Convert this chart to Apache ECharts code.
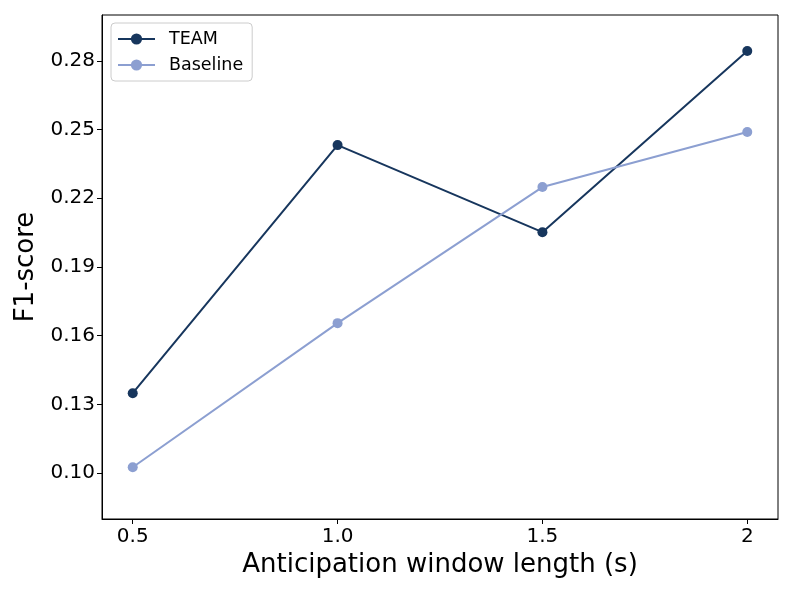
<!DOCTYPE html>
<html>
<head>
<meta charset="utf-8">
<script src="https://cdn.jsdelivr.net/npm/echarts@6/dist/echarts.min.js"></script>
<style>html,body{margin:0;padding:0;background:#fff;}#c{width:793px;height:595px;}</style>
</head>
<body>
<div id="c"></div>
<script>
const xValues = [0.5, 1.0, 1.5, 2.0];
const xTickLabels = ['0.5', '1.0', '1.5', '2'];
const yTicks = [0.10, 0.13, 0.16, 0.19, 0.22, 0.25, 0.28];
const teamValues = [0.1349, 0.2432, 0.2052, 0.2843];
const baselineValues = [0.1026, 0.1655, 0.2249, 0.2489];

const chart = echarts.init(document.getElementById('c'), null, {renderer: 'canvas'});
const font = 'DejaVu Sans';
chart.setOption({
  animation: false,
  backgroundColor: '#fff',
  grid: {left: 102, right: 15, top: 15, bottom: 76, show: true, borderColor: '#000', borderWidth: 1, backgroundColor: 'transparent'},
  legend: {
    left: 111, top: 23, orient: 'vertical',
    itemWidth: 37, itemHeight: 14, itemGap: 8,
    padding: [7, 9, 7, 6],
    borderColor: '#ccc', borderWidth: 1, borderRadius: 4,
    backgroundColor: 'rgba(255,255,255,0.8)',
    textStyle: {fontFamily: font, fontSize: 17.5, color: '#000', padding: [0, 0, 0, 9]},
    data: ['TEAM', 'Baseline']
  },
  xAxis: {
    type: 'value', min: 0.425, max: 2.075,
    name: 'Anticipation window length (s)', nameLocation: 'middle', nameGap: 32,
    nameTextStyle: {fontFamily: font, fontSize: 26, color: '#000'},
    axisLine: {show: true, lineStyle: {color: '#000', width: 1}},
    axisTick: {show: true, length: 5, customValues: xValues, lineStyle: {color: '#000'}},
    axisLabel: {
      customValues: xValues, margin: 8,
      fontFamily: font, fontSize: 20, color: '#000',
      formatter: v => xTickLabels[xValues.findIndex(x => Math.abs(x - v) < 1e-6)]
    },
    splitLine: {show: false}
  },
  yAxis: {
    type: 'value', min: 0.08, max: 0.30,
    name: 'F1-score', nameLocation: 'middle', nameGap: 61,
    nameTextStyle: {fontFamily: font, fontSize: 26, color: '#000'},
    axisLine: {show: true, lineStyle: {color: '#000', width: 1}},
    axisTick: {show: true, length: 5, customValues: yTicks, lineStyle: {color: '#000'}},
    axisLabel: {
      customValues: yTicks, margin: 7,
      fontFamily: font, fontSize: 20, color: '#000',
      formatter: v => v.toFixed(2)
    },
    splitLine: {show: false}
  },
  series: [
    {
      name: 'TEAM', type: 'line',
      data: xValues.map((x, i) => [x, teamValues[i]]),
      symbol: 'circle', symbolSize: 10,
      lineStyle: {color: '#17365d', width: 2},
      itemStyle: {color: '#17365d'}
    },
    {
      name: 'Baseline', type: 'line',
      data: xValues.map((x, i) => [x, baselineValues[i]]),
      symbol: 'circle', symbolSize: 10,
      lineStyle: {color: '#8c9fd1', width: 2},
      itemStyle: {color: '#8c9fd1'}
    }
  ]
});
</script>
</body>
</html>
